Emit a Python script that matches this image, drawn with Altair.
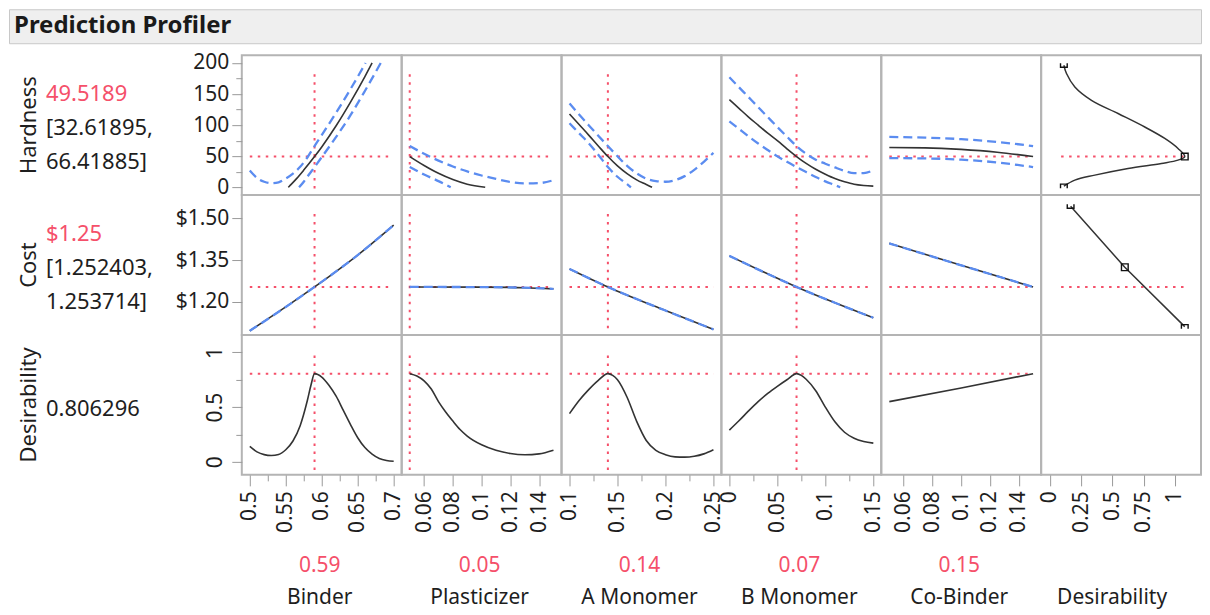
import altair as alt
import pandas as pd

FONT = "Noto Sans"
TEXT = "#1e1e1e"
RED = "#f5506a"
BLUE = "#5b8cf0"
CURVE = "#333333"
BORDER = "#b4b4b4"
NOVIEW = alt.ViewBackground(stroke="transparent")

# ---------------- texts / axes ----------------
title_text = "Prediction Profiler"
factors = ["Binder", "Plasticizer", "A Monomer", "B Monomer", "Co-Binder"]
factor_value_text = ["0.59", "0.05", "0.14", "0.07", "0.15"]
factor_current = [0.59, 0.05, 0.14, 0.07, 0.15]
show_factor_vline = [True, True, True, True, False]
factor_hline_span = [[0.50, 0.695], [0.05, 0.147], [0.10, 0.25], [0.0, 0.146], [0.05, 0.148]]
factor_domains = [[0.4889, 0.7111], [0.0444, 0.1556], [0.0917, 0.2583], [-0.0083, 0.1583], [0.0444, 0.1556]]
factor_ticks = [
    [0.5, 0.525, 0.55, 0.575, 0.6, 0.625, 0.65, 0.675, 0.7],
    [0.06, 0.08, 0.1, 0.12, 0.14],
    [0.1, 0.125, 0.15, 0.175, 0.2, 0.225, 0.25],
    [0.0, 0.025, 0.05, 0.075, 0.1, 0.125, 0.15],
    [0.06, 0.08, 0.1, 0.12, 0.14],
]
factor_major_step = [0.05, 0.02, 0.05, 0.05, 0.02]

desir_col_title = "Desirability"
desir_col_domain = [-0.07, 1.21]
desir_col_ticks = [0, 0.25, 0.5, 0.75, 1]
desir_col_hline_span = [0.09, 1.07]

responses = ["Hardness", "Cost", "Desirability"]
response_current = [49.5189, 1.25306, 0.806296]
response_value_text = ["49.5189", "$1.25", "0.806296"]
response_interval_text = [["[32.61895,", "66.41885]"], ["[1.252403,", "1.253714]"], []]
response_domains = [[-12.5, 212.5], [1.08, 1.584], [-0.12, 1.16]]
response_ticks = [[0, 25, 50, 75, 100, 125, 150, 175, 200], [1.20, 1.35, 1.50], [0, 0.25, 0.5, 0.75, 1]]
response_major_step = [50, 0.15, 0.5]
response_formats = ["d", "$.2f", ".1~f"]
response_vline_span = [[-2, 186], [1.104, 1.52], [-0.075, 0.995]]

# ---------------- Hardness profiles ----------------
hard_binder_x = [0.5536, 0.555, 0.565, 0.575, 0.59, 0.60, 0.62, 0.64, 0.66, 0.67]
hard_binder_y = [0, 1.7, 14, 27.7, 49.5, 65, 99, 137, 178, 200]
hard_binder_up_x = [0.50, 0.51, 0.52, 0.53, 0.54, 0.55, 0.56, 0.57, 0.58, 0.59, 0.60, 0.62, 0.64, 0.661]
hard_binder_up_y = [27, 15, 9, 6.5, 8, 14, 22, 33, 48, 66.4, 84, 120, 158, 200]
hard_binder_lo_x = [0.5685, 0.575, 0.58, 0.59, 0.60, 0.62, 0.64, 0.66, 0.682]
hard_binder_lo_y = [0, 9, 17, 32.6, 48.5, 81, 116, 155, 200]

hard_plast_x = [0.05, 0.06, 0.07, 0.08, 0.09, 0.1025]
hard_plast_y = [49.5, 35.2, 22.6, 12.5, 5, 0]
hard_plast_up_x = [0.05, 0.06, 0.07, 0.08, 0.09, 0.10, 0.11, 0.12, 0.13, 0.14, 0.15]
hard_plast_up_y = [66.4, 54, 43, 33.5, 25.5, 19, 13.5, 8.5, 6.3, 6.8, 11.5]
hard_plast_lo_x = [0.05, 0.06, 0.07, 0.0785]
hard_plast_lo_y = [32.6, 20.5, 10, 0]

hard_amono_x = [0.10, 0.11, 0.12, 0.13, 0.14, 0.15, 0.16, 0.17, 0.18, 0.186]
hard_amono_y = [118, 101, 84, 66.5, 49.5, 34.5, 22, 12, 4.5, 0]
hard_amono_up_x = [0.10, 0.11, 0.12, 0.13, 0.14, 0.15, 0.16, 0.17, 0.18, 0.19, 0.20, 0.21, 0.22, 0.23, 0.24, 0.25]
hard_amono_up_y = [135, 117, 100, 83, 66.4, 50, 34.5, 22.5, 14, 10, 9, 11.5, 18, 28, 41, 55.5]
hard_amono_lo_x = [0.10, 0.11, 0.12, 0.13, 0.14, 0.15, 0.16, 0.164]
hard_amono_lo_y = [103, 87, 71, 52.5, 32.6, 17, 5, 0]

hard_bmono_x = [0.0, 0.01, 0.02, 0.03, 0.04, 0.05, 0.06, 0.07, 0.08, 0.09, 0.10, 0.11, 0.12, 0.13, 0.14, 0.15]
hard_bmono_y = [141, 127, 113, 100, 87, 75, 62, 49.5, 38.5, 29, 21, 14, 9, 5, 3, 2]
hard_bmono_up_y = [177, 161, 145, 129, 113, 97, 81.5, 66.4, 54, 44.5, 38, 32, 26.5, 23, 23, 27.5]
hard_bmono_lo_x = [0.0, 0.01, 0.02, 0.03, 0.04, 0.05, 0.06, 0.07, 0.08, 0.09, 0.10, 0.11, 0.1155]
hard_bmono_lo_y = [106, 94, 82, 70.5, 60, 50, 41, 32.6, 24.5, 16.5, 9.5, 3.5, 0]

hard_cobind_x = [0.05, 0.075, 0.10, 0.125, 0.15]
hard_cobind_y = [64, 63.5, 61, 56.5, 49.5]
hard_cobind_up_y = [81, 80, 77.5, 73, 66.4]
hard_cobind_lo_y = [47, 46.5, 44.5, 40, 32.6]

# ---------------- Cost profiles ----------------
cost_binder_x = [0.50, 0.55, 0.59, 0.65, 0.70]
cost_binder_y = [1.095, 1.181, 1.2531, 1.368, 1.476]
cost_plast_x = [0.05, 0.10, 0.13, 0.15]
cost_plast_y = [1.2531, 1.2525, 1.2503, 1.2462]
cost_amono_x = [0.10, 0.14, 0.20, 0.25]
cost_amono_y = [1.318, 1.2531, 1.168, 1.100]
cost_bmono_x = [0.0, 0.035, 0.07, 0.11, 0.15]
cost_bmono_y = [1.365, 1.308, 1.2531, 1.196, 1.142]
cost_cobind_x = [0.05, 0.10, 0.15]
cost_cobind_y = [1.410, 1.331, 1.2531]

# ---------------- Desirability profiles ----------------
des_binder_x = [0.50, 0.51, 0.52, 0.53, 0.54, 0.55, 0.56, 0.57, 0.58, 0.585, 0.59, 0.60, 0.61,
                0.62, 0.63, 0.64, 0.65, 0.66, 0.67, 0.68, 0.69, 0.70]
des_binder_y = [0.14, 0.09, 0.065, 0.057, 0.066, 0.11, 0.19, 0.33, 0.56, 0.70, 0.806, 0.775, 0.70,
                0.60, 0.47, 0.34, 0.22, 0.13, 0.07, 0.03, 0.012, 0.005]
des_plast_x = [0.05, 0.055, 0.06, 0.065, 0.07, 0.075, 0.08, 0.085, 0.09, 0.10, 0.11, 0.12, 0.13, 0.14, 0.15]
des_plast_y = [0.806, 0.785, 0.74, 0.665, 0.55, 0.455, 0.372, 0.295, 0.235, 0.155, 0.105, 0.075, 0.064, 0.072, 0.105]
des_amono_x = [0.10, 0.11, 0.12, 0.13, 0.14, 0.145, 0.15, 0.16, 0.17, 0.18, 0.19, 0.20, 0.21, 0.22, 0.23, 0.24, 0.25]
des_amono_y = [0.44, 0.56, 0.66, 0.745, 0.806, 0.79, 0.75, 0.59, 0.37, 0.195, 0.105, 0.065, 0.045, 0.042, 0.05, 0.072, 0.11]
des_bmono_x = [0.0, 0.01, 0.02, 0.03, 0.04, 0.05, 0.06, 0.07, 0.075, 0.08, 0.09, 0.10, 0.11, 0.12, 0.13, 0.14, 0.15]
des_bmono_y = [0.29, 0.375, 0.465, 0.55, 0.625, 0.69, 0.75, 0.806, 0.79, 0.755, 0.65, 0.50, 0.365, 0.27, 0.215, 0.185, 0.17]
des_cobind_x = [0.05, 0.10, 0.15]
des_cobind_y = [0.55, 0.675, 0.806]

# ---------------- Desirability functions (last column) ----------------
hard_desir_d = [0.112, 0.133, 0.20, 0.333, 0.546, 0.76, 0.92, 1.026, 1.08, 1.026, 0.893, 0.626, 0.36, 0.20, 0.112]
hard_desir_h = [196.4, 183, 161.5, 140, 118.7, 97, 78.6, 62.5, 49.5, 43.7, 38.4, 30.4, 19.6, 11.6, 1.9]
hard_desir_mark_d = [0.112, 1.08, 0.112]
hard_desir_mark_h = [196.4, 49.5, 1.9]
cost_desir_d = [0.166, 0.60, 1.08]
cost_desir_c = [1.544, 1.324, 1.110]
cost_desir_mark_d = [0.166, 0.60, 1.08]
cost_desir_mark_c = [1.544, 1.324, 1.110]
marker_kinds = ["top", "mid", "bot"]

curves = {
    (0, 0): [("pred", hard_binder_x, hard_binder_y), ("ci", hard_binder_up_x, hard_binder_up_y), ("ci", hard_binder_lo_x, hard_binder_lo_y)],
    (0, 1): [("pred", hard_plast_x, hard_plast_y), ("ci", hard_plast_up_x, hard_plast_up_y), ("ci", hard_plast_lo_x, hard_plast_lo_y)],
    (0, 2): [("pred", hard_amono_x, hard_amono_y), ("ci", hard_amono_up_x, hard_amono_up_y), ("ci", hard_amono_lo_x, hard_amono_lo_y)],
    (0, 3): [("pred", hard_bmono_x, hard_bmono_y), ("ci", hard_bmono_x, hard_bmono_up_y), ("ci", hard_bmono_lo_x, hard_bmono_lo_y)],
    (0, 4): [("pred", hard_cobind_x, hard_cobind_y), ("ci", hard_cobind_x, hard_cobind_up_y), ("ci", hard_cobind_x, hard_cobind_lo_y)],
    (1, 0): [("pred", cost_binder_x, cost_binder_y), ("ci", cost_binder_x, cost_binder_y)],
    (1, 1): [("pred", cost_plast_x, cost_plast_y), ("ci", cost_plast_x, cost_plast_y)],
    (1, 2): [("pred", cost_amono_x, cost_amono_y), ("ci", cost_amono_x, cost_amono_y)],
    (1, 3): [("pred", cost_bmono_x, cost_bmono_y), ("ci", cost_bmono_x, cost_bmono_y)],
    (1, 4): [("pred", cost_cobind_x, cost_cobind_y), ("ci", cost_cobind_x, cost_cobind_y)],
    (2, 0): [("pred", des_binder_x, des_binder_y)],
    (2, 1): [("pred", des_plast_x, des_plast_y)],
    (2, 2): [("pred", des_amono_x, des_amono_y)],
    (2, 3): [("pred", des_bmono_x, des_bmono_y)],
    (2, 4): [("pred", des_cobind_x, des_cobind_y)],
}
desir_fn = {
    0: (hard_desir_d, hard_desir_h, hard_desir_mark_d, hard_desir_mark_h),
    1: (cost_desir_d, cost_desir_c, cost_desir_mark_d, cost_desir_mark_c),
}

RED_RULE = dict(color=RED, strokeDash=[2.5, 5.5], strokeWidth=2)
PRED_STYLE = dict(color=CURVE, strokeWidth=1.6)
CI_STYLE = dict(color=BLUE, strokeDash=[9, 5], strokeWidth=2.3)
TOP_PATH = "M-1,-0.6L-1,0.6L1,0.6L1,-0.6"
BOT_PATH = "M-1,0.6L-1,-0.6L1,-0.6L1,0.6"


def major_test(step):
    return f"abs(datum.value / {step} - round(datum.value / {step})) < 0.001"


def x_axis(c):
    if c < 5:
        ticks, step = factor_ticks[c], factor_major_step[c]
    else:
        ticks, step = desir_col_ticks, 0.25
    t = major_test(step)
    return alt.Axis(values=ticks, format=".3~f", labelExpr=f"({t}) ? datum.label : ''",
                    tickSize={"condition": {"test": t, "value": 11}, "value": 6},
                    labelAngle=270, labelAlign="right", labelBaseline="middle",
                    labelPadding=5, title=None)


def y_axis(r):
    t = major_test(response_major_step[r])
    common = dict(values=response_ticks[r], format=response_formats[r],
                  labelExpr=f"({t}) ? datum.label : ''",
                  tickSize={"condition": {"test": t, "value": 10}, "value": 6}, title=None)
    if r == 2:
        return alt.Axis(labelAngle=270, labelAlign="center", labelBaseline="alphabetic",
                        labelPadding=10, **common)
    return alt.Axis(labelAlign="right", labelBaseline="middle", labelPadding=3, **common)


def panel(r, c):
    xa = x_axis(c) if r == 2 else None
    ya = y_axis(r) if c == 0 else None
    xdom = factor_domains[c] if c < 5 else desir_col_domain

    def X(f):
        return alt.X(f, type="quantitative", scale=alt.Scale(domain=xdom, nice=False, zero=False), axis=xa)

    def Y(f):
        return alt.Y(f, type="quantitative", scale=alt.Scale(domain=response_domains[r], nice=False, zero=False), axis=ya)

    layers = []
    if c < 5:
        sx = factor_hline_span[c]
        layers.append(alt.Chart(pd.DataFrame({"x": [sx[0]], "x2": [sx[1]], "y": [response_current[r]]}))
                      .mark_rule(**RED_RULE).encode(x=X("x"), x2=alt.X2("x2"), y=Y("y")))
        if show_factor_vline[c]:
            sy = response_vline_span[r]
            layers.append(alt.Chart(pd.DataFrame({"x": [factor_current[c]], "y": [sy[0]], "y2": [sy[1]]}))
                          .mark_rule(**RED_RULE).encode(x=X("x"), y=Y("y"), y2=alt.Y2("y2")))
        for kind, xs, ys in curves[(r, c)]:
            style = PRED_STYLE if kind == "pred" else CI_STYLE
            layers.append(alt.Chart(pd.DataFrame({"x": xs, "y": ys}))
                          .mark_line(interpolate="monotone", **style).encode(x=X("x"), y=Y("y")))
    elif r < 2:
        sx = desir_col_hline_span
        layers.append(alt.Chart(pd.DataFrame({"x": [sx[0]], "x2": [sx[1]], "y": [response_current[r]]}))
                      .mark_rule(**RED_RULE).encode(x=X("x"), x2=alt.X2("x2"), y=Y("y")))
        dd, yy, md, my = desir_fn[r]
        df = pd.DataFrame({"x": dd, "y": yy, "i": list(range(len(dd)))})
        layers.append(alt.Chart(df).mark_line(interpolate="catmull-rom" if r == 0 else "linear",
                                              color=CURVE, strokeWidth=1.5)
                      .encode(x=X("x"), y=Y("y"), order="i:Q"))
        mdf = pd.DataFrame({"x": md, "y": my, "m": marker_kinds})
        layers.append(alt.Chart(mdf).mark_point(filled=False, color="#111111", strokeWidth=1.4, size=45, opacity=1)
                      .encode(x=X("x"), y=Y("y"),
                              shape=alt.Shape("m:N", scale=alt.Scale(domain=marker_kinds, range=[TOP_PATH, "square", BOT_PATH]), legend=None)))
    else:
        layers.append(alt.Chart(pd.DataFrame({"x": [0.5], "y": [0.5]})).mark_point(opacity=0)
                      .encode(x=X("x"), y=Y("y")))
    return alt.layer(*layers).properties(width=160, height=140)


def side(r):
    layers = [alt.Chart(pd.DataFrame({"t": [responses[r]]}))
              .mark_text(angle=270, fontSize=22, color=TEXT, align="center", baseline="middle")
              .encode(text="t:N", x=alt.value(20), y=alt.value(70))]
    has_iv = len(response_interval_text[r]) > 0
    layers.append(alt.Chart(pd.DataFrame({"t": [response_value_text[r]]}))
                  .mark_text(fontSize=22, color=RED if has_iv else TEXT, align="left", baseline="middle")
                  .encode(text="t:N", x=alt.value(37), y=alt.value(39 if has_iv else 74)))
    for k, line in enumerate(response_interval_text[r]):
        layers.append(alt.Chart(pd.DataFrame({"t": [line]}))
                      .mark_text(fontSize=22, color=TEXT, align="left", baseline="middle")
                      .encode(text="t:N", x=alt.value(37), y=alt.value(73 + 34 * k)))
    return alt.layer(*layers).properties(width=233, height=140, view=NOVIEW)


def bottom(c):
    layers = []
    if c < 5:
        layers.append(alt.Chart(pd.DataFrame({"t": [factor_value_text[c]]}))
                      .mark_text(fontSize=21, color=RED, align="center", baseline="middle")
                      .encode(text="t:N", x=alt.value(78), y=alt.value(91)))
        name, nx = factors[c], 78
    else:
        name, nx = desir_col_title, 71
    layers.append(alt.Chart(pd.DataFrame({"t": [name]}))
                  .mark_text(fontSize=21, color=TEXT, align="center", baseline="middle")
                  .encode(text="t:N", x=alt.value(nx), y=alt.value(123)))
    return alt.layer(*layers).properties(width=160, height=128, view=NOVIEW)


blank = (alt.Chart(pd.DataFrame({"t": [""]})).mark_text()
         .encode(text="t:N", x=alt.value(0), y=alt.value(0))
         .properties(width=233, height=128, view=NOVIEW))

cells = []
for r in range(3):
    cells.append(side(r))
    for c in range(6):
        cells.append(panel(r, c))
cells.append(blank)
for c in range(6):
    cells.append(bottom(c))

grid = alt.concat(*cells, columns=7, spacing=0, bounds="flush", align="each")

header = (alt.Chart(pd.DataFrame({"t": [title_text]}))
          .mark_text(fontSize=24, fontWeight="bold", color="#1a1a1a", align="left", baseline="middle")
          .encode(text="t:N", x=alt.value(5), y=alt.value(17))
          .properties(width=1193, height=34,
                      view=alt.ViewBackground(fill="#efefef", stroke="#c8c8c8", strokeWidth=1)))

chart = (alt.vconcat(header, grid, spacing=6)
         .properties(padding=0)
         .configure_view(stroke=BORDER, strokeWidth=2)
         .configure_axis(labelFont=FONT, labelFontSize=21, labelColor=TEXT, tickColor="#9a9a9a",
                         tickWidth=1, domain=False, grid=False, labelFlush=False, labelOverlap=False)
         .configure_text(font=FONT))

chart.save("out.html", embed_options={"renderer": "svg", "actions": False})
